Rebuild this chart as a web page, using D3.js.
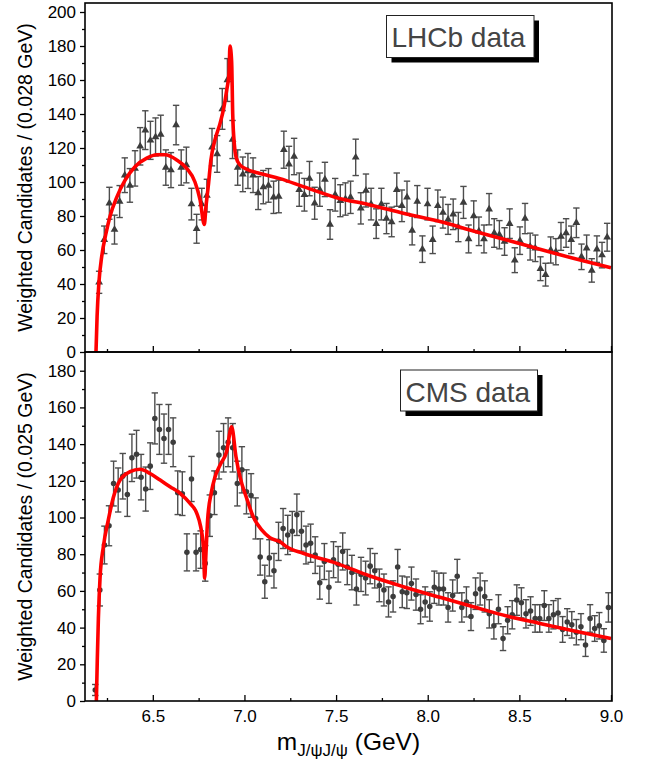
<!DOCTYPE html>
<html>
<head>
<meta charset="utf-8">
<script src="https://cdn.jsdelivr.net/npm/d3@7"></script>
<style>
  body { margin: 0; background: #fff; }
  text { font-family: "Liberation Sans", Arial, Helvetica, sans-serif; }
</style>
</head>
<body>
<svg id="chart" width="645" height="768"></svg>
<script>
(function () {
  'use strict';

  // ---- data ----
  // LHCb: 28 MeV bins, first bin centre
  var lhcbStart = 6.207, lhcbBin = 0.028;
  var lhcbVals = [41,66,87.5,72,88.5,104,98,108,121,130.5,
    124.5,126.5,128,108.5,107,133.5,108.5,110,87,72.5,
    87,92,120.5,116.5,143,160,125,108.5,104.5,106.5,
    104,93.5,97,98,91,91.5,119,110.5,115,95.5,
    92.5,102,87.5,95.5,101.5,75,92.5,89,90,91,
    114.5,84.5,95,87,75.5,87,78.5,76.5,95.5,86,
    91,71.5,88.5,60.5,87,66,86,82,78,81,
    73.5,88,66.5,80,71,66.5,84,70,69,65,
    75.5,54,65.5,78.5,62,61,49,45.5,60,59,
    68,70,66,76,56,61,48,60.5,57,67.5];
  var lhcbErrs = [6.5,8.1,9.4,8.5,9.4,10.2,9.9,10.4,11,11.4,
    11.2,11.2,11.3,10.4,10.3,11.6,10.4,10.5,9.3,8.5,
    9.3,9.6,11,10.8,12,12.6,11.2,10.4,10.2,10.3,
    10.2,9.7,9.8,9.9,9.5,9.6,10.9,10.5,10.7,9.8,
    9.6,10.1,9.4,9.8,10.1,8.7,9.6,9.4,9.5,9.5,
    10.7,9.2,9.7,9.3,8.7,9.3,8.9,8.7,9.8,9.3,
    9.5,8.5,9.4,7.8,9.3,8.1,9.3,9.1,8.8,9,
    8.6,9.4,8.2,8.9,8.4,8.2,9.2,8.4,8.3,8.1,
    8.7,7.3,8.1,8.9,7.9,7.8,7,6.7,7.7,7.7,
    8.2,8.4,8.1,8.7,7.5,7.8,6.9,7.8,7.5,8.2];

  // CMS: 25 MeV bins
  var cmsStart = 6.186, cmsBin = 0.025;
  var cmsVals = [6,60.5,85,95.5,118.5,115,122.5,112.5,132.5,134.5,
    122,115.5,128,154,148,143,148,141,113.5,113,
    81,121,81,82.5,75,101,113.5,134,138,141,
    138,118.5,126,114,112,99.5,78.5,65,78,71,
    87,94,90.5,92.5,101.5,92.5,85,86,79.5,64.5,
    76,62,77,74.5,81.5,73,70,61,69,67,
    73.5,71,63,60.5,54,57,73,59.5,59,64,
    58,50,54,51.5,62,61,61,51,57.5,68,
    51,54,46,58.5,61,57,47.5,41,50,34,
    44,47,55,53.5,47.5,49,45,45,52,45,
    47,48,39,43,41.5,37.5,40.5,30.5,45,39.5,
    41,33,51];
  var cmsErrs = [3,8.7,10.3,10.9,12.2,12,12.4,11.9,12.9,13,
    12.4,12,12.7,13.9,13.6,13.4,13.6,13.3,11.9,11.9,
    10.1,12.3,10.1,10.2,9.7,11.3,11.9,13,13.2,13.3,
    13.2,12.2,12.6,12,11.9,11.2,9.9,9,9.9,9.4,
    10.4,10.9,10.7,10.8,11.3,10.8,10.3,10.4,10,9,
    9.8,8.8,9.8,9.7,10.1,9.6,9.4,8.7,9.3,9.2,
    9.6,9.4,8.9,8.7,8.2,8.5,9.6,8.6,8.6,9,
    8.5,7.9,8.2,8,8.8,8.7,8.7,8,8.5,9.2,
    8,8.2,7.6,8.6,8.7,8.5,7.7,7.2,7.9,6.5,
    7.4,7.7,8.3,8.2,7.7,7.8,7.5,7.5,8.1,7.5,
    7.7,7.8,7,7.3,7.2,6.9,7.1,6.2,7.5,7,
    7.2,6.4,8];

  // fit curves (mass, value)
  var lhcbFitM = [6.190,6.196,6.206,6.221,6.245,6.267,6.303,6.348,6.403,6.467,6.521,6.567,6.630,6.685,6.730,6.758,6.781,
    6.790,6.803,6.817,6.839,6.867,6.888,6.903,6.916,6.921,6.930,6.936,6.945,6.956,6.976,7.012,7.085,7.194,7.321,
    7.503,7.685,7.867,8.067,8.249,8.431,8.612,8.794,9.0];
  var lhcbFitV = [0,21,41,56,70,80,91,101,109,114,116,116,113,108,100,89.5,75,
    85.5,98,113,124.7,134.5,144,154,164,180,171,140,122,114,110,107.5,105,102,97.3,
    90.8,86.5,81.6,76.7,71.2,65.9,60.4,55.1,49.5];

  var cmsFitM = [6.192,6.197,6.203,6.212,6.230,6.257,6.285,6.321,6.376,6.430,6.485,6.540,6.594,6.649,6.703,6.740,6.761,6.776,6.783,
    6.790,6.799,6.818,6.839,6.867,6.903,6.930,6.954,6.976,7.012,7.048,7.094,7.139,7.194,7.230,7.321,7.503,7.685,7.867,
    8.067,8.249,8.431,8.612,8.794,9.0];
  var cmsFitV = [0,22,45,67,84,98.6,111,120.4,125,126.3,124,120.4,116.8,113.2,107.7,102.3,95,84,67,
    80.5,98.6,113,122,128.6,136,149.5,133,122,110.5,100.4,93.2,89,86.8,84.1,80.5,75,68.1,62.3,
    56.5,51.4,46.3,42.3,38.3,34];

  var xTicks = [6.5, 7.0, 7.5, 8.0, 8.5, 9.0];
  var xMinor = [6.25, 6.75, 7.25, 7.75, 8.25, 8.75];
  var xTickLabels = ['6.5', '7.0', '7.5', '8.0', '8.5', '9.0'];

  // ---- layout ----
  var left = 85, right = 612;
  var svg = d3.select('#chart');

  var x = d3.scaleLinear().domain([6.13, 9.0]).range([left, right - 1]);

  var panels = [
    { id: 'lhcb', top: 3, bottom: 352, ymax: 205.3, yTicks: d3.range(0, 201, 20), yMinor: d3.range(10, 200, 20),
      start: lhcbStart, bin: lhcbBin, vals: lhcbVals, errs: lhcbErrs, fitM: lhcbFitM, fitV: lhcbFitV,
      marker: d3.symbolTriangle, title: 'Weighted Candidates / (0.028 GeV)', label: 'LHCb data',
      box: { x: 386.5, y: 15.5, w: 147.5, h: 42, tx: 391.5, ty: 46.5 }, showX: false },
    { id: 'cms', top: 352, bottom: 701, ymax: 190.2, yTicks: d3.range(0, 181, 20), yMinor: d3.range(10, 190, 20),
      start: cmsStart, bin: cmsBin, vals: cmsVals, errs: cmsErrs, fitM: cmsFitM, fitV: cmsFitV,
      marker: d3.symbolCircle, title: 'Weighted Candidates / (0.025 GeV)', label: 'CMS data',
      box: { x: 400.5, y: 370, w: 137, h: 41, tx: 405.5, ty: 401.5 }, showX: true }
  ];

  panels.forEach(function (p) {
    var y = d3.scaleLinear().domain([0, p.ymax]).range([p.bottom, p.top]);
    var g = svg.append('g').attr('class', 'panel ' + p.id);

    svg.append('clipPath').attr('id', 'clip-' + p.id)
      .append('rect')
      .attr('x', left).attr('y', p.top)
      .attr('width', right - left).attr('height', p.bottom - p.top);

    var pts = p.vals.map(function (v, i) {
      return { m: p.start + i * p.bin, v: v, e: p.errs[i] };
    });

    // error bars
    var eb = g.append('g')
      .attr('stroke', '#4d4d4d')
      .attr('stroke-width', 1.4)
      .attr('clip-path', 'url(#clip-' + p.id + ')');
    eb.selectAll('line.bar')
      .data(pts)
      .enter().append('line')
      .attr('class', 'bar')
      .attr('x1', d => x(d.m)).attr('x2', d => x(d.m))
      .attr('y1', d => y(Math.max(0, d.v - d.e))).attr('y2', d => y(d.v + d.e));
    eb.selectAll('line.capT')
      .data(pts)
      .enter().append('line')
      .attr('class', 'capT')
      .attr('x1', d => x(d.m) - 3.2).attr('x2', d => x(d.m) + 3.2)
      .attr('y1', d => y(d.v + d.e)).attr('y2', d => y(d.v + d.e));
    eb.selectAll('line.capB')
      .data(pts.filter(d => d.v - d.e > 0))
      .enter().append('line')
      .attr('class', 'capB')
      .attr('x1', d => x(d.m) - 3.2).attr('x2', d => x(d.m) + 3.2)
      .attr('y1', d => y(d.v - d.e)).attr('y2', d => y(d.v - d.e));

    // markers
    var sym = d3.symbol().type(p.marker).size(p.marker === d3.symbolTriangle ? 26 : 24);
    g.selectAll('path.pt')
      .data(pts)
      .enter().append('path')
      .attr('class', 'pt')
      .attr('d', sym)
      .attr('transform', d => `translate(${x(d.m)},${y(d.v)})`)
      .attr('fill', '#3c3c3c');

    // fit curve
    var fit = p.fitM.map(function (m, i) { return [m, p.fitV[i]]; });
    g.append('path')
      .datum(fit)
      .attr('clip-path', 'url(#clip-' + p.id + ')')
      .attr('fill', 'none')
      .attr('stroke', '#ff0000')
      .attr('stroke-width', 3.6)
      .attr('stroke-linejoin', 'round')
      .attr('d', d3.line().x(d => x(d[0])).y(d => y(d[1])).curve(d3.curveMonotoneX));

    // y axis
    var yAxis = d3.axisLeft(y).tickValues(p.yTicks).tickSize(5).tickPadding(4)
      .tickFormat(d3.format('d'));
    var ya = g.append('g').attr('transform', `translate(${left},0)`).call(yAxis);
    ya.select('.domain').remove();
    ya.selectAll('text').attr('font-size', 17).attr('fill', '#000').style('font-family', null);
    ya.selectAll('line').attr('stroke-width', 1.3);

    var yMin = g.append('g').attr('transform', `translate(${left},0)`)
      .call(d3.axisLeft(y).tickValues(p.yMinor).tickSize(3).tickFormat(''));
    yMin.select('.domain').remove();
    yMin.selectAll('line').attr('stroke-width', 1.3);

    // x axis, ticks pointing inward
    var xAxis = d3.axisBottom(x).tickValues(xTicks).tickSizeInner(-6).tickSizeOuter(0).tickPadding(9)
      .tickFormat((d, i) => p.showX ? xTickLabels[i] : '');
    var xa = g.append('g').attr('transform', `translate(0,${p.bottom})`).call(xAxis);
    xa.select('.domain').remove();
    xa.selectAll('text').attr('font-size', 17).attr('fill', '#000').style('font-family', null);
    xa.selectAll('line').attr('stroke-width', 1.3);

    var xMin = g.append('g').attr('transform', `translate(0,${p.bottom})`)
      .call(d3.axisBottom(x).tickValues(xMinor).tickSizeInner(-3).tickSizeOuter(0).tickFormat(''));
    xMin.select('.domain').remove();
    xMin.selectAll('line').attr('stroke-width', 1.3);

    // frame
    g.append('rect')
      .attr('x', left).attr('y', p.top)
      .attr('width', right - left).attr('height', p.bottom - p.top)
      .attr('fill', 'none').attr('stroke', '#000').attr('stroke-width', 1.6);

    // y title
    g.append('text')
      .attr('transform', `translate(32,${(p.top + p.bottom) / 2}) rotate(-90)`)
      .attr('text-anchor', 'middle')
      .attr('font-size', 19.5)
      .attr('fill', '#000')
      .text(p.title);

    // label box with shadow
    var b = p.box;
    g.append('rect')
      .attr('x', b.x + 5).attr('y', b.y + 5).attr('width', b.w).attr('height', b.h)
      .attr('fill', '#000');
    g.append('rect')
      .attr('x', b.x).attr('y', b.y).attr('width', b.w).attr('height', b.h)
      .attr('fill', '#fff').attr('stroke', '#222').attr('stroke-width', 1);
    g.append('text')
      .attr('x', b.tx).attr('y', b.ty)
      .attr('font-size', 28)
      .attr('fill', '#444')
      .text(p.label);
  });

  // x title with subscript
  var xt = svg.append('text')
    .attr('x', (left + right) / 2)
    .attr('y', 750)
    .attr('text-anchor', 'middle')
    .attr('font-size', 24.5)
    .attr('fill', '#000');
  xt.append('tspan').text('m');
  xt.append('tspan').attr('font-size', 17).attr('dy', 6).text('J/\u03c8J/\u03c8');
  xt.append('tspan').attr('dy', -6).text(' (GeV)');
}());
</script>
</body>
</html>
